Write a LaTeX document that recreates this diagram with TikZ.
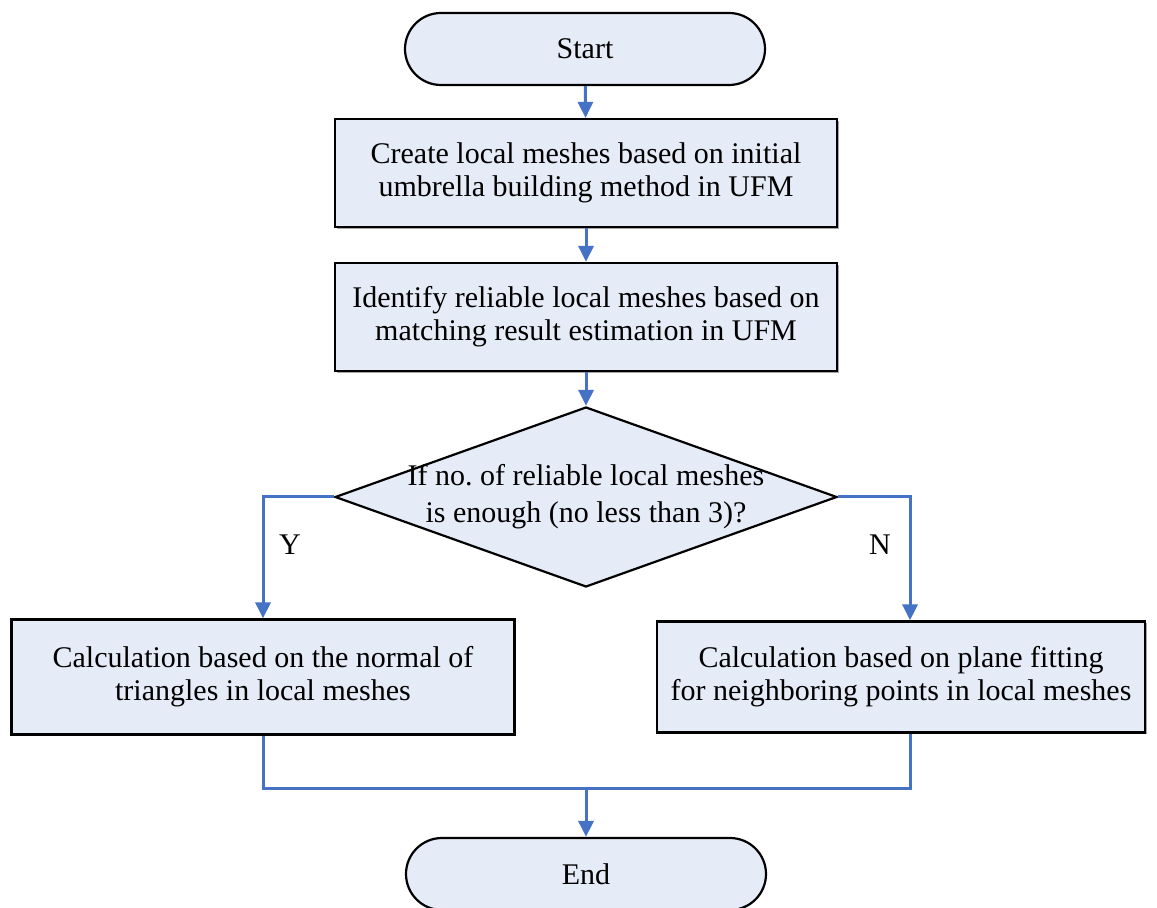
\documentclass[tikz,border=0pt]{standalone}
\usepackage{fontspec}
\setmainfont{Liberation Serif}
\usetikzlibrary{arrows.meta,shapes.geometric,shadows}
\definecolor{boxFill}{HTML}{E6ECF7}
\definecolor{flowCol}{HTML}{4472C4}

\begin{document}
\begin{tikzpicture}[
  x=0.5pt, y=-0.5pt,
  font=\fontsize{15}{16.5}\selectfont,
  terminal/.style={draw=black, line width=1.1pt, fill=boxFill, rounded corners=18pt,
              minimum width=180pt, minimum height=36pt, inner sep=0pt},
  stepbox/.style={draw=black, line width=1.1pt, fill=boxFill, align=center,
              minimum height=54pt, inner sep=2pt,
              drop shadow={shadow xshift=0.8pt, shadow yshift=-0.8pt, fill=gray!70, opacity=1}},
  decision/.style={diamond, draw=black, line width=1.1pt, fill=boxFill, aspect=1,
              minimum width=251pt, minimum height=90pt, inner sep=0pt},
  flow/.style={-{Triangle[length=8pt,width=7.5pt]}, line width=1.5pt, draw=flowCol},
  line/.style={line width=1.5pt, draw=flowCol},
  lbl/.style={inner sep=1pt},
]
\useasboundingbox (0,0) rectangle (1157,908);

% ---- Main column ----
\node[terminal]                                (start) at (585,49)  {Start};
\node[stepbox, minimum width=251pt]            (mesh)  at (586,173) {Create local meshes based on initial\\umbrella building method in UFM};
\node[stepbox, minimum width=251pt]            (ident) at (586,317) {Identify reliable local meshes based on\\matching result estimation in UFM};
\node[decision]                                (dec)   at (586,497) {};
\node[align=center, font=\fontsize{15}{18.5}\selectfont] (dectx) at (dec.center) {If no.\ of reliable local meshes\\is enough (no less than 3)?};

% ---- Branches ----
\node[stepbox, minimum width=251.5pt, minimum height=57.5pt] (normal) at (263,677) {Calculation based on the normal of\\triangles in local meshes};
\node[stepbox, minimum width=244pt, minimum height=55.5pt]   (plane)  at (901,677) {Calculation based on plane fitting\\for neighboring points in local meshes};

\node[terminal] (end) at (586,874) {End};

% ---- Arrows ----
\draw[flow] (start) -- (mesh);
\draw[flow] (mesh)  -- (ident);
\draw[flow] (ident) -- (dec);
\draw[flow] (dec.west) -| (normal.north);
\draw[flow] (dec.east) -| ([xshift=4.5pt]plane.north);
\node[lbl] (ylbl) at (290,545) {Y};
\node[lbl] (nlbl) at (880,545) {N};

% ---- Merge ----
\coordinate (merge) at (586,788);
\draw[line] (normal.south) |- (merge) -| ([xshift=4.5pt]plane.south);
\draw[flow] (merge) -- (end);

\end{tikzpicture}
\end{document}
